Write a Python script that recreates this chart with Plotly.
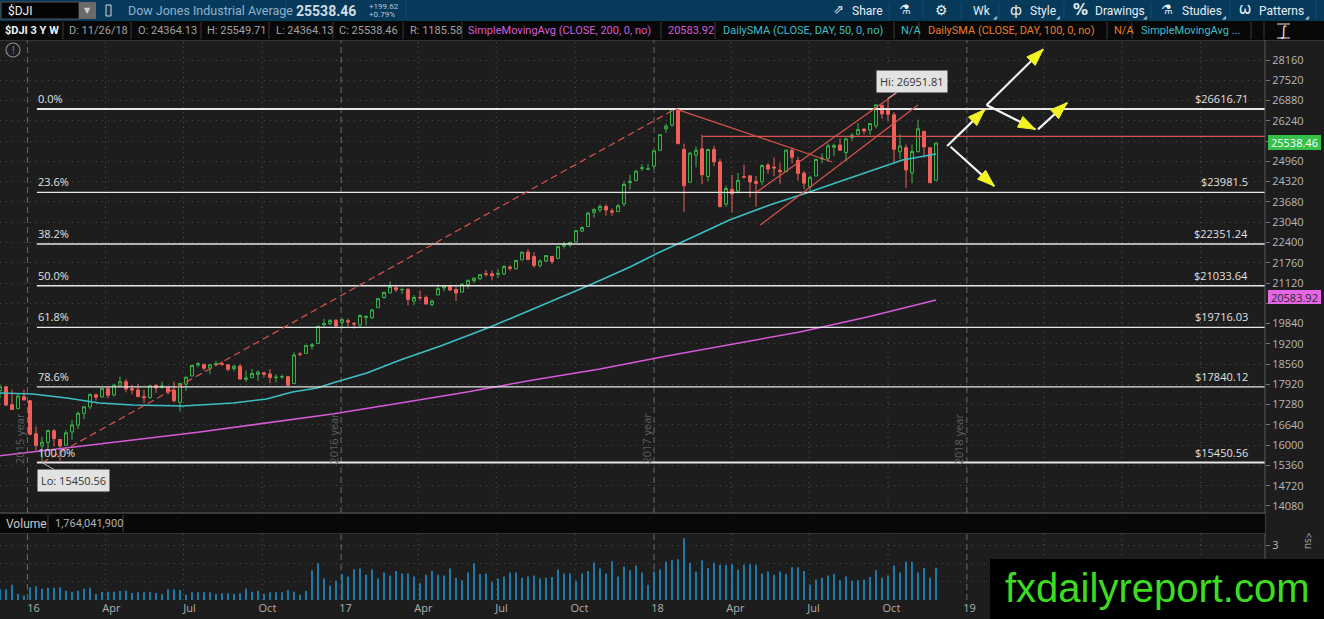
import math
import pandas as pd
import plotly.graph_objects as go

W, H = 1324, 619

# ---- weekly $DJI bars, Nov 2015 - Nov 2018 ----
weeks = pd.date_range("2015-11-30", periods=157, freq="7D")

opens = [
    17719.7, 17845.5, 17277.0, 17154.0, 17535.0, 17405.5, 16358.0, 15980.0,
    16086.0, 16453.0, 16180.0, 15994.0, 16417.0, 16634.0, 17002.0, 17207.0,
    17589.0, 17526.0, 17799.0, 17586.0, 17890.0, 18005.0, 17783.0, 17744.0,
    17531.0, 17507.0, 17891.0, 17825.0, 17830.0, 17736.0, 17355.0, 17925.0,
    18186.0, 18534.0, 18554.0, 18434.0, 18535.0, 18574.0, 18541.0, 18415.0,
    18492.0, 18078.0, 18130.0, 18233.0, 18283.0, 18250.0, 18134.0, 18159.0,
    18163.0, 17946.0, 18876.0, 18898.0, 19122.0, 19208.0, 19795.0, 19836.0,
    19943.0, 19872.0, 19931.0, 19848.0, 19795.0, 20028.0, 20025.0, 20338.0,
    20663.0, 20808.0, 20972.0, 20903.0, 20919.0, 20550.0, 20665.0, 20665.0,
    20440.0, 20742.0, 20962.0, 21016.0, 20918.0, 20832.0, 21067.0, 21195.0,
    21258.0, 21412.0, 21411.0, 21392.0, 21409.0, 21626.0, 21568.0, 21849.0,
    22095.0, 21955.0, 21677.0, 21813.0, 21961.0, 21896.0, 22285.0, 22321.0,
    22423.0, 22762.0, 22903.0, 23348.0, 23431.0, 23535.0, 23396.0, 23375.0,
    23617.0, 24288.0, 24358.0, 24739.0, 24715.0, 24809.0, 25308.0, 25987.0,
    26101.0, 26598.0, 25338.0, 24301.0, 25159.0, 25358.0, 24481.0, 25336.0,
    24943.0, 23610.0, 24076.0, 24024.0, 24479.0, 24504.0, 24331.0, 24317.0,
    24845.0, 24781.0, 24678.0, 24634.0, 25313.0, 24988.0, 24585.0, 24161.0,
    24497.0, 25037.0, 25053.0, 25405.0, 25474.0, 25240.0, 25712.0, 25809.0,
    25980.0, 25946.0, 26080.0, 26727.0, 26598.0, 26429.0, 25266.0, 25391.0,
    24596.0, 25269.0, 25909.0, 25389.0, 24364.13,
]
highs = [
    17895.5, 17845.5, 17750.0, 17606.0, 17750.0, 17405.5, 16593.0, 16263.0,
    16486.0, 16510.0, 16180.0, 16470.0, 16795.0, 17062.0, 17220.0, 17633.0,
    17631.0, 17795.0, 17799.0, 17940.0, 18167.6, 18084.0, 17891.0, 17934.0,
    17747.0, 17891.0, 17899.0, 18003.0, 17830.0, 18011.0, 17950.0, 18160.0,
    18537.0, 18622.0, 18555.0, 18553.0, 18668.0, 18650.0, 18557.0, 18537.0,
    18565.0, 18358.0, 18409.0, 18365.0, 18319.0, 18400.0, 18240.0, 18233.0,
    18194.0, 18934.0, 18935.0, 19153.0, 19225.0, 19757.0, 19987.0, 19987.0,
    19980.0, 19999.6, 19999.0, 19888.0, 20125.0, 20081.0, 20298.0, 20639.0,
    20851.0, 21169.0, 21006.0, 20974.0, 20960.0, 20740.0, 20887.0, 20726.0,
    20599.0, 21070.0, 21013.0, 21034.0, 21012.0, 21112.0, 21225.0, 21305.0,
    21392.0, 21535.0, 21516.0, 21562.0, 21681.0, 21681.0, 21835.0, 22100.0,
    22179.0, 22084.0, 21871.0, 22005.0, 21961.0, 22275.0, 22419.0, 22419.0,
    22777.0, 22905.0, 23368.0, 23485.0, 23602.0, 23602.0, 23475.0, 23617.0,
    24327.0, 24534.0, 24671.0, 24876.0, 24876.0, 25299.0, 25804.0, 26153.0,
    26616.71, 26608.0, 25520.0, 25260.0, 25432.0, 25800.0, 25356.0, 25450.0,
    25045.0, 24197.0, 24537.0, 24595.0, 24858.0, 24507.0, 24496.0, 24868.0,
    24903.0, 25086.0, 24917.0, 25326.0, 25402.0, 25102.0, 24662.0, 24506.0,
    25048.0, 25215.0, 25522.0, 25520.0, 25692.0, 25722.0, 25849.0, 26167.0,
    26003.0, 26169.0, 26769.0, 26743.0, 26951.81, 26512.0, 25815.0, 25491.0,
    25487.0, 26277.0, 25909.0, 25410.0, 25549.71,
]
lows = [
    17484.5, 17230.5, 17128.0, 17138.0, 17421.0, 16314.0, 15842.0, 15450.56,
    15878.0, 15960.0, 15503.0, 15994.0, 16165.0, 16510.0, 16821.0, 17132.0,
    17409.0, 17487.0, 17484.0, 17538.0, 17852.0, 17666.0, 17605.0, 17508.0,
    17331.0, 17460.0, 17651.0, 17785.0, 17602.0, 17356.0, 17063.0, 17713.0,
    18176.0, 18465.0, 18355.0, 18246.0, 18532.0, 18509.0, 18331.0, 18335.0,
    18085.0, 17992.0, 18116.0, 18027.0, 18144.0, 17959.0, 17978.0, 18095.0,
    17883.0, 17946.0, 18806.0, 18898.0, 19021.0, 19199.0, 19707.0, 19790.0,
    19718.0, 19677.0, 19749.0, 19677.0, 19733.0, 19783.0, 19981.0, 20338.0,
    20622.0, 20793.0, 20837.0, 20772.0, 20412.0, 20412.0, 20570.0, 20453.0,
    20379.0, 20742.0, 20854.0, 20862.0, 20553.0, 20832.0, 20938.0, 21118.0,
    21205.0, 21321.0, 21197.0, 21280.0, 21362.0, 21507.0, 21545.0, 21849.0,
    21843.0, 21600.0, 21600.0, 21780.0, 21709.0, 21896.0, 22207.0, 22249.0,
    22423.0, 22730.0, 22903.0, 23176.0, 23350.0, 23246.0, 23242.0, 23375.0,
    23536.0, 24067.0, 24358.0, 24657.0, 24688.0, 24741.0, 25300.0, 25862.0,
    26049.0, 25493.0, 23360.29, 24301.0, 24775.0, 24238.0, 24338.0, 24804.0,
    23508.0, 23524.0, 23344.52, 23946.0, 24416.0, 23813.0, 23531.0, 24207.0,
    24575.0, 24493.0, 24250.0, 24628.0, 24901.0, 24352.0, 24084.0, 23997.0,
    24497.0, 24897.0, 24953.0, 25122.0, 25290.0, 24965.0, 25617.0, 25786.0,
    25807.0, 25799.0, 26001.0, 26302.0, 26227.0, 24899.0, 25028.0, 24122.0,
    24268.0, 25237.0, 25082.0, 24276.0, 24364.13,
]
closes = [
    17847.6, 17265.2, 17128.6, 17552.2, 17425.0, 16346.5, 15988.1, 16093.5,
    16466.3, 16205.0, 15973.8, 16392.0, 16640.0, 17006.8, 17213.3, 17602.3,
    17515.7, 17792.8, 17577.0, 17897.5, 18003.8, 17773.6, 17740.6, 17535.3,
    17500.9, 17873.2, 17807.1, 17865.3, 17675.2, 17400.8, 17949.4, 18146.7,
    18516.6, 18570.9, 18432.2, 18543.5, 18576.5, 18552.6, 18395.4, 18492.0,
    18085.5, 18123.8, 18261.5, 18308.2, 18240.5, 18138.4, 18145.7, 18161.2,
    17888.3, 18847.7, 18867.9, 19152.1, 19170.4, 19756.9, 19843.4, 19933.8,
    19762.6, 19963.8, 19885.7, 19827.3, 20093.8, 20071.5, 20269.4, 20624.1,
    20821.8, 21005.7, 20903.0, 20914.6, 20596.7, 20663.2, 20656.1, 20453.3,
    20547.8, 20940.5, 21006.9, 20896.6, 20804.8, 21080.3, 21206.3, 21272.0,
    21384.3, 21394.8, 21349.6, 21414.3, 21637.7, 21580.1, 21830.3, 22092.8,
    21858.3, 21674.5, 21813.7, 21987.6, 21797.8, 22268.3, 22349.6, 22405.1,
    22773.7, 22871.7, 23328.6, 23434.2, 23539.2, 23422.2, 23358.2, 23558.0,
    24231.6, 24329.2, 24651.7, 24754.1, 24719.2, 25295.9, 25803.2, 26071.7,
    26616.71, 25521.0, 24190.9, 25219.4, 25310.0, 24538.1, 25335.7, 24946.5,
    23533.2, 24103.1, 23932.8, 24360.1, 24462.9, 24311.2, 24262.5, 24831.2,
    24715.1, 24753.1, 24635.2, 25316.5, 25090.5, 24580.9, 24271.4, 24456.5,
    25019.4, 25058.1, 25451.1, 25462.6, 25313.1, 25669.3, 25790.4, 25964.8,
    25916.5, 26154.7, 26743.5, 26458.3, 26447.1, 25340.0, 25444.3, 24688.3,
    25270.8, 25989.3, 25413.2, 24286.0, 25538.46,
]
# volume in billions
volume_bn = [
    0.60, 0.58, 0.83, 0.33, 0.25, 0.70, 0.75, 0.62, 0.67, 0.67, 0.70, 0.50,
    0.45, 0.50, 0.62, 0.67, 0.33, 0.45, 0.45, 0.45, 0.50, 0.50, 0.38, 0.42,
    0.42, 0.45, 0.38, 0.33, 0.58, 0.58, 0.55, 0.28, 0.42, 0.42, 0.42, 0.42,
    0.33, 0.37, 0.37, 0.33, 0.37, 0.63, 0.45, 0.50, 0.33, 0.42, 0.42, 0.42,
    0.55, 0.45, 0.28, 0.50,
    1.62, 2.00, 1.17, 0.78, 1.05, 1.42, 1.28, 1.67, 1.72, 1.38,
    1.67, 1.17, 1.50, 1.33, 1.58, 1.45, 1.45, 1.28, 0.92, 1.38,
    1.58, 1.38, 1.33, 1.72, 1.22, 1.08, 1.50, 2.00, 1.42, 1.45,
    1.00, 1.17, 1.28, 1.50, 1.50, 1.22, 1.28, 1.33, 1.17, 1.22,
    1.25, 1.67, 1.45, 1.45, 1.05, 1.45, 1.58, 2.05, 1.72, 1.45,
    2.12, 1.28, 1.83, 1.62, 1.88, 1.50, 0.83, 1.55, 1.67, 2.08,
    2.17, 2.22, 3.37, 2.03, 1.55,
    2.17, 1.75, 2.03, 1.92, 1.92, 1.95, 1.67, 1.92, 1.95, 1.92,
    1.45, 1.55, 1.38, 1.55, 1.42, 1.78, 1.78, 1.58, 0.83, 1.12,
    1.22, 1.33, 1.42, 1.08, 1.28, 1.05, 1.08, 1.12, 1.25, 1.62,
    1.22, 1.33, 1.88, 1.50, 2.08, 2.08, 1.50, 1.75, 1.22, 1.764,
]

# moving averages
sma50_dates = ["2015-11-30", "2016-01-07", "2016-02-16", "2016-03-25", "2016-05-03",
               "2016-06-30", "2016-08-28", "2016-10-06", "2016-11-05", "2016-12-04",
               "2016-12-22", "2017-01-31", "2017-03-11", "2017-04-27", "2017-06-24",
               "2017-08-21", "2017-10-18", "2017-12-04", "2018-01-08", "2018-02-23",
               "2018-03-30", "2018-05-16", "2018-06-28", "2018-08-21", "2018-09-22",
               "2018-10-18", "2018-11-26"]
sma50_vals = [17647, 17616, 17489, 17331, 17268, 17237, 17331, 17458, 17679, 17805,
              17963, 18279, 18689, 19131, 19731, 20394, 21057, 21625, 22099, 22667,
              23109, 23583, 23961, 24466, 24750, 25003, 25192]
sma200_dates = ["2015-11-30", "2015-12-08", "2016-02-16", "2016-05-03", "2016-07-20",
                "2016-10-06", "2016-12-22", "2017-03-11", "2017-05-28", "2017-08-13",
                "2017-10-30", "2018-01-16", "2018-04-03", "2018-06-20", "2018-09-07",
                "2018-11-26"]
sma200_vals = [15665, 15690, 15911, 16163, 16416, 16700, 16984, 17331, 17679, 18058,
               18405, 18816, 19194, 19573, 20046, 20583.92]

# fibonacci retracement
fib_levels = [26616.71, 23981.50, 22351.24, 21033.64, 19716.03, 17840.12, 15450.56]
fib_pcts = ["0.0%", "23.6%", "38.2%", "50.0%", "61.8%", "78.6%", "100.0%"]
fib_labels = ["$26616.71", "$23981.5", "$22351.24", "$21033.64", "$19716.03",
              "$17840.12", "$15450.56"]
fib_start = "2016-01-12"

# hand drawn trend lines: (date0, price0, date1, price1, dashed)
trend_lines = [
    ("2016-01-18", 15450.56, "2018-01-26", 26616.71, True),
    ("2018-01-26", 26616.71, "2018-07-28", 24940, False),
    ("2018-05-01", 23993, "2018-10-11", 27118, False),
    ("2018-05-05", 22951, "2018-11-05", 26739, False),
]
resist_start, resist_price = "2018-02-26", 25750

# scenario arrows: (date0, price0, date1, price1)
arrows = [
    ("2018-12-09", 25445, "2019-01-22", 26600),
    ("2019-01-24", 26740, "2019-03-31", 28500),
    ("2019-01-24", 26740, "2019-03-22", 25970),
    ("2019-03-25", 25970, "2019-04-28", 26810),
    ("2018-12-13", 25420, "2019-02-02", 24180),
]

price_ticks = list(range(14080, 28161, 640))
price_tick_text = ["" if v in (25600, 20480) else str(v) for v in price_ticks]
label_dates = ["2016-01-08", "2016-04-08", "2016-07-08", "2016-10-07", "2017-01-06",
               "2017-04-07", "2017-07-07", "2017-10-06", "2018-01-05", "2018-04-06",
               "2018-07-06", "2018-10-05", "2019-01-04"]
label_text = ["16", "Apr", "Jul", "Oct", "17", "Apr", "Jul", "Oct", "18", "Apr",
              "Jul", "Oct", "19"]
grid_dates = ["2016-04-01", "2016-07-01", "2016-10-01", "2017-04-01", "2017-07-01",
              "2017-10-01", "2018-04-01", "2018-07-01", "2018-10-01", "2019-04-01",
              "2019-07-01", "2019-10-01"]
year_dates = ["2016-01-01", "2017-01-01", "2018-01-01", "2019-01-01"]
year_names = ["2015 year", "2016 year", "2017 year", "2018 year"]

# ---- pixel geometry of the screenshot ----
X0 = pd.Timestamp("2015-11-30")
DAY_PX = 6 / 7          # 6 px per weekly bar
PRICE_PX = 31.57        # price units per pixel
PLOT_R = 1265


def pxx(x):
    return x / W


def pyy(y):
    return 1 - y / H


def x_date(px):
    return (X0 + pd.Timedelta(days=px / DAY_PX)).strftime("%Y-%m-%d %H:%M:%S")


def y_price(py):
    return 28160 - (py - 60) * PRICE_PX


def to_px(date, price):
    d = (pd.Timestamp(date) - X0) / pd.Timedelta(days=1)
    return d * DAY_PX, 60 + (28160 - price) / PRICE_PX


x_end = x_date(PLOT_R)
BG = "#1d1d1d"
NARROW = "Roboto, sans-serif"
GREEN, RED = "#3bb54a", "#f0605a"
CYAN, MAGENTA, ORANGE = "#3bbfc6", "#d65ad6", "#e87d2a"

fig = go.Figure()
fig.add_trace(go.Candlestick(
    x=weeks, open=opens, high=highs, low=lows, close=closes,
    increasing=dict(line=dict(color=GREEN, width=1), fillcolor=BG),
    decreasing=dict(line=dict(color=RED, width=1), fillcolor=RED),
    whiskerwidth=0, showlegend=False, hoverinfo="skip", xaxis="x", yaxis="y"))
fig.add_trace(go.Scatter(x=sma50_dates, y=sma50_vals, mode="lines",
                         line=dict(color=CYAN, width=1.6), showlegend=False,
                         hoverinfo="skip", xaxis="x", yaxis="y"))
fig.add_trace(go.Scatter(x=sma200_dates, y=sma200_vals, mode="lines",
                         line=dict(color=MAGENTA, width=1.6), showlegend=False,
                         hoverinfo="skip", xaxis="x", yaxis="y"))
fig.add_trace(go.Bar(x=weeks, y=[v * 1e9 for v in volume_bn],
                     marker=dict(color="#1f7aab", line=dict(width=0)),
                     width=2.3 * 86400000, showlegend=False, hoverinfo="skip",
                     xaxis="x2", yaxis="y2"))

shapes = []
ann = []


def rect(x0, y0, x1, y1, fill, lc=None, layer="above"):
    shapes.append(dict(type="rect", xref="paper", yref="paper",
                       x0=pxx(x0), x1=pxx(x1), y0=pyy(y1), y1=pyy(y0),
                       fillcolor=fill, layer=layer,
                       line=dict(width=1 if lc else 0, color=lc or fill)))


def pline(x0, y0, x1, y1, color, width=1, layer="above"):
    shapes.append(dict(type="line", xref="paper", yref="paper",
                       x0=pxx(x0), x1=pxx(x1), y0=pyy(y0), y1=pyy(y1),
                       line=dict(color=color, width=width), layer=layer))


def txt(x, y, s, size=11, color="#a0a0a0", anchor="left", family=NARROW, **kw):
    ann.append(dict(xref="paper", yref="paper", x=pxx(x), y=pyy(y), text=s,
                    showarrow=False, xanchor=anchor, yanchor="middle",
                    font=dict(size=size, color=color, family=family), **kw))


# vertical grid (both panes)
for d in grid_dates:
    for yr in ("y domain", "y2 domain"):
        shapes.append(dict(type="line", xref="x", yref=yr, x0=d, x1=d, y0=0, y1=1,
                           line=dict(color="#505050", width=1, dash="1px,4px"),
                           layer="below"))
for d, name in zip(year_dates, year_names):
    for yr in ("y domain", "y2 domain"):
        shapes.append(dict(type="line", xref="x", yref=yr, x0=d, x1=d, y0=0, y1=1,
                           line=dict(color="#6a6a6a", width=1, dash="6px,4px"),
                           layer="below"))
    ann.append(dict(xref="x", yref="paper", x=d, y=pyy(466), text=name,
                    showarrow=False, textangle=-90, xshift=-8,
                    font=dict(size=11, color="#5e5e5e", family="Open Sans")))

# fibonacci lines and labels
for lvl, pct, lab in zip(fib_levels, fib_pcts, fib_labels):
    w = 2 if pct in ("0.0%", "100.0%") else 1.3
    shapes.append(dict(type="line", xref="x", yref="y", x0=fib_start, x1=x_end,
                       y0=lvl, y1=lvl, line=dict(color="#e6e6e6", width=w)))
    ann.append(dict(xref="paper", yref="y", x=pxx(36), y=lvl, text=pct,
                    showarrow=False, xanchor="left", yanchor="bottom", yshift=1,
                    font=dict(size=11, color="#e0e0e0", family="Open Sans")))
    ann.append(dict(xref="paper", yref="y", x=pxx(1250), y=lvl, text=lab,
                    showarrow=False, xanchor="right", yanchor="bottom", yshift=1,
                    font=dict(size=11, color="#e0e0e0", family="Open Sans")))

# trend lines
for d0, p0, d1, p1, dashed in trend_lines:
    shapes.append(dict(type="line", xref="x", yref="y", x0=d0, y0=p0, x1=d1, y1=p1,
                       line=dict(color="#d9534f", width=1.2,
                                 dash="7px,4px" if dashed else "solid")))
shapes.append(dict(type="line", xref="x", yref="y", x0=resist_start, x1=x_end,
                   y0=resist_price, y1=resist_price,
                   line=dict(color="#d9534f", width=1.2)))

# scenario arrows: white shafts, yellow heads
for d0, p0, d1, p1 in arrows:
    shapes.append(dict(type="line", xref="x", yref="y", x0=d0, y0=p0, x1=d1, y1=p1,
                       line=dict(color="#f4f4f4", width=2.2)))
    ax0, ay0 = to_px(d0, p0)
    ax1, ay1 = to_px(d1, p1)
    ln = math.hypot(ax1 - ax0, ay1 - ay0)
    ux, uy = (ax1 - ax0) / ln, (ay1 - ay0) / ln
    bx, by = ax1 - 17 * ux, ay1 - 17 * uy
    pts = [(ax1, ay1), (bx - 6 * uy, by + 6 * ux), (bx + 6 * uy, by - 6 * ux)]
    path = "M " + " L ".join(f"{pxx(x):.5f},{pyy(y):.5f}" for x, y in pts) + " Z"
    shapes.append(dict(type="path", xref="paper", yref="paper", path=path,
                       fillcolor="#f2f224", line=dict(color="#f2f224", width=1)))

# hi / lo bubbles
ann.append(dict(xref="x", yref="y", x=weeks[148], y=26951.81, text="Hi: 26951.81",
                showarrow=True, arrowhead=0, arrowwidth=1, arrowcolor="#bdbdbd",
                ax=24, ay=-17, bgcolor="#e2e2e2", borderpad=3,
                font=dict(size=11, color="#333", family="Open Sans")))
ann.append(dict(xref="x", yref="y", x=weeks[7], y=15450.56, text="Lo: 15450.56",
                showarrow=True, arrowhead=0, arrowwidth=1, arrowcolor="#bdbdbd",
                ax=31, ay=18, bgcolor="#e2e2e2", borderpad=3,
                font=dict(size=11, color="#333", family="Open Sans")))

# price bubbles on the axis
rect(1268, 135, 1321, 150, "#35c04a")
txt(1294.5, 142.5, "25538.46", size=11, color="#ffffff", anchor="center",
    family="Open Sans")
rect(1268, 290, 1321, 304, "#e466e4")
txt(1294.5, 297, "20583.92", size=11, color="#2a2a2a", anchor="center",
    family="Open Sans")

# frame lines
pline(0, 40, W, 40, "#4a4a4a")
pline(0, 513, PLOT_R, 513, "#5a5a5a")
pline(0, 533, PLOT_R, 533, "#444444")
pline(PLOT_R, 40, PLOT_R, 619, "#5a5a5a")

# info icon
shapes.append(dict(type="circle", xref="paper", yref="paper", x0=pxx(6), x1=pxx(20),
                   y0=pyy(57), y1=pyy(43), line=dict(color="#8a8a8a", width=1.2)))
txt(13, 50, "!", size=10, color="#8a8a8a", anchor="center", family="Open Sans")

# ---- top toolbar ----
rect(0, 0, W, 21, "#073a5a")
rect(1, 2, 79, 19, "#050505", lc="#555555")
rect(79, 2, 96, 19, "#6a6a6a")
txt(87.5, 10.5, "▼", size=8, color="#d0d0d0", anchor="center", family="DejaVu Sans")
txt(6, 11, "$DJI", size=12, color="#f0f0f0")
rect(106, 5, 111, 16, "#073a5a", lc="#d8d8d8")
txt(126, 10.5, "Dow Jones Industrial Average", size=12.5, color="#8fb2cc")
pline(286, 2, 286, 19, "#0f4c72")
txt(294, 10.5, "<b>25538.46</b>", size=14, color="#d0dce6")
txt(367, 6, "+199.62", size=8, color="#b6c8d8")
txt(367, 15, "+0.79%", size=8, color="#b6c8d8")
pline(406, 2, 406, 19, "#0f4c72")
for sx in (889, 923, 961, 999, 1064, 1151, 1230, 1316):
    pline(sx, 2, sx, 19, "#0f4c72")
WHITE = "#e6eef4"
txt(838, 10, "⇗", size=13, color=WHITE, anchor="center", family="DejaVu Sans")
txt(850, 10.5, "Share", size=12, color=WHITE)
txt(905, 10, "⚗", size=13, color=WHITE, anchor="center", family="DejaVu Sans")
txt(941, 10, "⚙", size=14, color=WHITE, anchor="center", family="DejaVu Sans")
txt(971, 10.5, "Wk", size=12, color=WHITE)
txt(1016, 10, "ф", size=14, color=WHITE, anchor="center", family="DejaVu Sans")
txt(1028, 10.5, "Style", size=12, color=WHITE)
txt(1080, 10, "<b>%</b>", size=15, color=WHITE, anchor="center", family="DejaVu Sans")
txt(1093, 10.5, "Drawings", size=12, color=WHITE)
txt(1167, 10, "⚗", size=13, color=WHITE, anchor="center", family="DejaVu Sans")
txt(1180, 10.5, "Studies", size=12, color=WHITE)
txt(1245, 10, "Ѡ", size=13, color=WHITE, anchor="center", family="DejaVu Sans")
txt(1257, 10.5, "Patterns", size=12, color=WHITE)
for tx in (995, 1058, 1145, 1224, 1307):
    txt(tx, 17, "◢", size=5, color="#b0c0cc", anchor="center", family="DejaVu Sans")

# ---- study header ----
rect(0, 21, W, 40, "#080808")
header = [
    (3, "<b>$DJI 3 Y W</b>", "#f2f2f2"),
    (67, "D: 11/26/18", "#a0a0a0"),
    (135.5, "O: 24364.13", "#a0a0a0"),
    (205, "H: 25549.71", "#a0a0a0"),
    (273.6, "L: 24364.13", "#a0a0a0"),
    (337.5, "C: 25538.46", "#a0a0a0"),
    (408, "R: 1185.58", "#a0a0a0"),
    (466, "SimpleMovingAvg (CLOSE, 200, 0, no)", MAGENTA),
    (666, "20583.92", MAGENTA),
    (721, "DailySMA (CLOSE, DAY, 50, 0, no)", CYAN),
    (899, "N/A", CYAN),
    (926, "DailySMA (CLOSE, DAY, 100, 0, no)", ORANGE),
    (1112, "N/A", ORANGE),
    (1138.6, "SimpleMovingAvg ...", CYAN),
]
for hx, s, c in header:
    txt(hx, 31, s, size=11, color=c)
for sx in (63, 131, 201, 269, 333, 403, 462, 661, 715, 894, 919, 1107, 1132, 1251, 1264):
    pline(sx, 22, sx, 39, "#3a3a3a")
txt(1283, 31, "∫", size=14, color="#e8e8e8", anchor="center", family="DejaVu Sans")
pline(1277, 24, 1290, 24, "#e8e8e8")
pline(1277, 38, 1290, 38, "#e8e8e8")

# ---- volume header ----
rect(0, 514, PLOT_R, 533, "#080808")
txt(4, 523.5, "Volume", size=12, color="#c8c8c8")
pline(48, 515, 48, 532, "#444444")
txt(53, 523.5, "1,764,041,900", size=11, color="#b0b0b0")
pline(123, 515, 123, 532, "#444444")
ann.append(dict(xref="paper", yref="paper", x=pxx(1318), y=pyy(551), text="&lt;su",
                showarrow=False, textangle=90,
                font=dict(size=10, color="#a8a8a8", family="Open Sans")))

# ---- watermark ----
rect(990, 559, W, H, "#000000")
txt(1157, 588, "fxdailyreport.com", size=40, color="#3ddc20", anchor="center",
    family="Liberation Sans, Arial, sans-serif")

price_rng = [y_price(513), y_price(40)]
vol_rng = [0, 3.0e9 * (600 - 533) / (600 - 545)]

fig.update_layout(
    width=W, height=H, margin=dict(l=0, r=0, t=0, b=0, pad=0),
    paper_bgcolor=BG, plot_bgcolor=BG, showlegend=False, hovermode=False,
    dragmode=False, shapes=shapes, annotations=ann,
    xaxis=dict(domain=[0, pxx(PLOT_R)], range=[x_date(0), x_end], type="date",
               showgrid=False, showticklabels=False, zeroline=False,
               rangeslider=dict(visible=False), anchor="y", fixedrange=True),
    yaxis=dict(domain=[pyy(513), pyy(40)], range=price_rng, side="right",
               anchor="x", tickvals=price_ticks, ticktext=price_tick_text,
               ticks="outside", ticklen=4,
               tickcolor="#777777", showgrid=True, gridcolor="#4a4a4a",
               griddash="1px,5px", zeroline=False, showline=False, automargin=False,
               tickfont=dict(size=11, color="#b8b8b8", family="Open Sans"),
               fixedrange=True),
    xaxis2=dict(domain=[0, pxx(PLOT_R)], range=[x_date(0), x_end], type="date",
                anchor="y2", tickvals=label_dates, ticktext=label_text,
                showgrid=False, zeroline=False, ticks="", automargin=False,
                tickfont=dict(size=11, color="#b0b0b0", family="Open Sans"),
                fixedrange=True),
    yaxis2=dict(domain=[pyy(600), pyy(533)], range=vol_rng, side="right",
                anchor="x2", tickvals=[1e9, 2e9, 3e9], ticktext=["", "", "3"],
                ticks="outside", ticklen=4, tickcolor="#777777", showgrid=True,
                gridcolor="#4a4a4a", griddash="1px,5px", zeroline=False,
                automargin=False,
                tickfont=dict(size=11, color="#b8b8b8", family="Open Sans"),
                fixedrange=True),
)

fig.write_html("out.html",
               config={"displayModeBar": False, "staticPlot": True},
               post_script="document.body.style.margin='0';"
                           "document.body.style.padding='0';"
                           "document.body.style.overflow='hidden';")
